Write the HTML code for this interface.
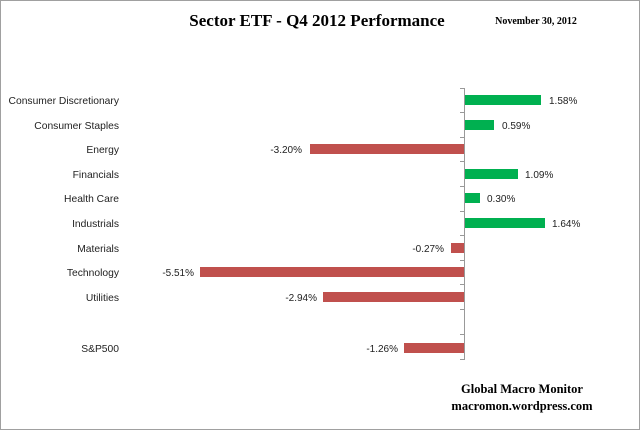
<!DOCTYPE html>
<html><head><style>
html,body{margin:0;padding:0;background:#fff;}
svg{display:block;}
</style></head><body>
<svg width="640" height="430" xmlns="http://www.w3.org/2000/svg" font-family="Liberation Sans, sans-serif">
<rect x="0.5" y="0.5" width="639" height="429" fill="#fff" stroke="#a0a0a0"/>
<text x="317" y="26" text-anchor="middle" font-family="Liberation Serif, serif" font-weight="bold" font-size="17">Sector ETF - Q4 2012 Performance</text>
<text x="536" y="24" text-anchor="middle" font-family="Liberation Serif, serif" font-weight="bold" font-size="10">November 30, 2012</text>
<g stroke="#999" stroke-width="1">
<line x1="464.5" y1="88" x2="464.5" y2="360"/>
<line x1="460" y1="88.5" x2="464" y2="88.5"/>
<line x1="460" y1="112.5" x2="464" y2="112.5"/>
<line x1="460" y1="137.5" x2="464" y2="137.5"/>
<line x1="460" y1="161.5" x2="464" y2="161.5"/>
<line x1="460" y1="186.5" x2="464" y2="186.5"/>
<line x1="460" y1="211.5" x2="464" y2="211.5"/>
<line x1="460" y1="235.5" x2="464" y2="235.5"/>
<line x1="460" y1="260.5" x2="464" y2="260.5"/>
<line x1="460" y1="284.5" x2="464" y2="284.5"/>
<line x1="460" y1="309.5" x2="464" y2="309.5"/>
<line x1="460" y1="334.5" x2="464" y2="334.5"/>
<line x1="460" y1="359.5" x2="464" y2="359.5"/>
</g>
<g font-size="10.3" fill="#222">
<text x="119" y="104" text-anchor="end">Consumer Discretionary</text>
<text x="119" y="129" text-anchor="end">Consumer Staples</text>
<text x="119" y="153" text-anchor="end">Energy</text>
<text x="119" y="178" text-anchor="end">Financials</text>
<text x="119" y="202" text-anchor="end">Health Care</text>
<text x="119" y="227" text-anchor="end">Industrials</text>
<text x="119" y="252" text-anchor="end">Materials</text>
<text x="119" y="276" text-anchor="end">Technology</text>
<text x="119" y="301" text-anchor="end">Utilities</text>
<text x="119" y="352" text-anchor="end">S&amp;P500</text>
</g>
<g fill="#00b050">
<rect x="465" y="95" width="76" height="10"/>
<rect x="465" y="120" width="29" height="10"/>
<rect x="465" y="169" width="53" height="10"/>
<rect x="465" y="193" width="15" height="10"/>
<rect x="465" y="218" width="80" height="10"/>
</g>
<g fill="#c0504d">
<rect x="310" y="144" width="154" height="10"/>
<rect x="451" y="243" width="13" height="10"/>
<rect x="200" y="267" width="264" height="10"/>
<rect x="323" y="292" width="141" height="10"/>
<rect x="404" y="343" width="60" height="10"/>
</g>
<g font-size="10" fill="#222">
<text x="549" y="104">1.58%</text>
<text x="502" y="129">0.59%</text>
<text x="302" y="153" text-anchor="end">-3.20%</text>
<text x="525" y="178">1.09%</text>
<text x="487" y="202">0.30%</text>
<text x="552" y="227">1.64%</text>
<text x="444" y="252" text-anchor="end">-0.27%</text>
<text x="194" y="276" text-anchor="end">-5.51%</text>
<text x="317" y="301" text-anchor="end">-2.94%</text>
<text x="398" y="352" text-anchor="end">-1.26%</text>
</g>
<text x="522" y="393" text-anchor="middle" font-family="Liberation Serif, serif" font-weight="bold" font-size="12.5">Global Macro Monitor</text>
<text x="522" y="410" text-anchor="middle" font-family="Liberation Serif, serif" font-weight="bold" font-size="12.5">macromon.wordpress.com</text>
</svg>
</body></html>
